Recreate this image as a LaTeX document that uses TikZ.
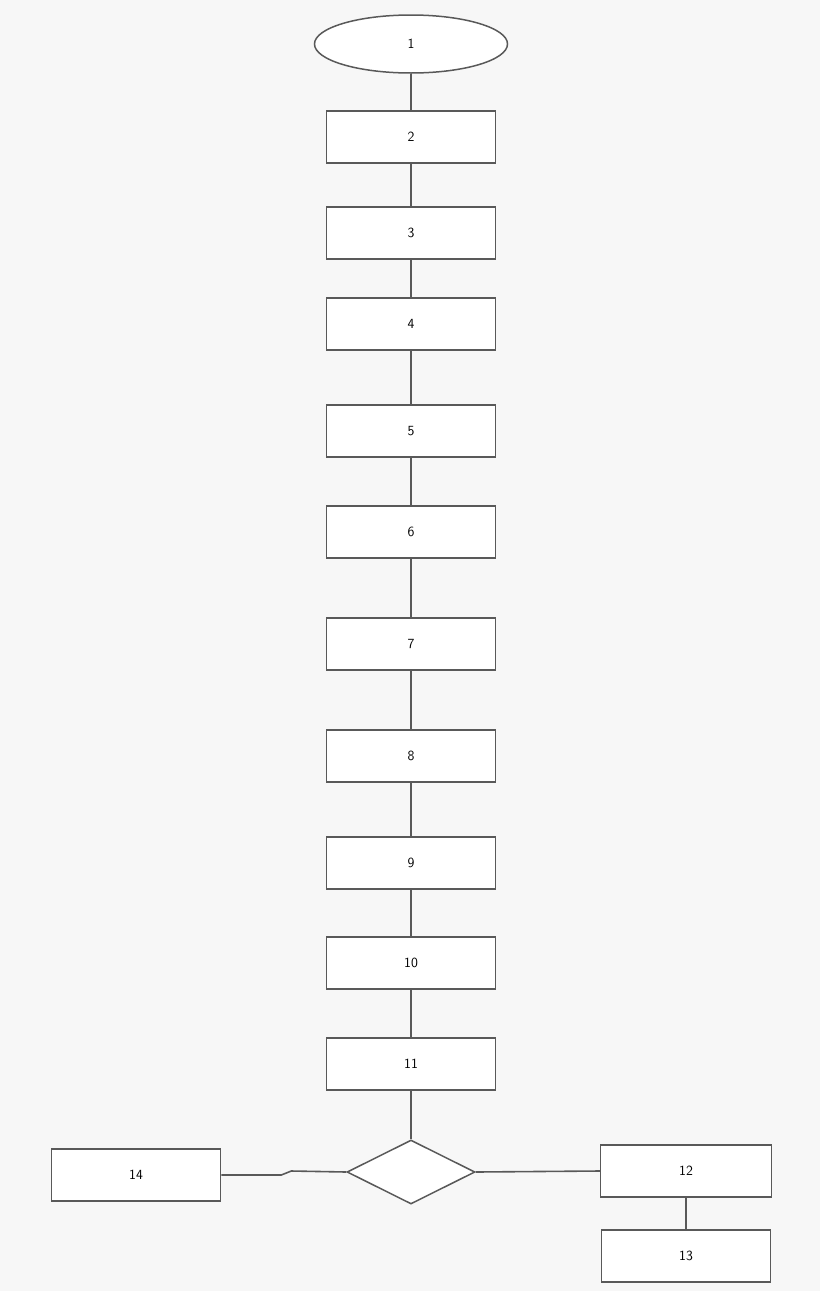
\documentclass[tikz,border=0pt]{standalone}
\usepackage{tikz}
\usetikzlibrary{shapes.geometric, positioning}

\begin{document}
\begin{tikzpicture}[x=1pt, y=-1pt, every node/.style={draw=black!65, line width=1.5pt, fill=white, font=\fontsize{14}{16}\selectfont\sffamily}, box/.style={rectangle, minimum width=169pt, minimum height=52pt}, link/.style={draw=black!65, line width=1.6pt}]
\fill[white!97!black] (0,0) rectangle (820,1291);
\useasboundingbox (0,0) rectangle (820,1291);
\node[ellipse, minimum width=193pt, minimum height=58pt] (n1) at (411,44) {1};
\node[box] (n2) at (411,137) {2};
\node[box] (n3) at (411,233) {3};
\node[box] (n4) at (411,324) {4};
\node[box] (n5) at (411,431) {5};
\node[box] (n6) at (411,532) {6};
\node[box] (n7) at (411,644) {7};
\node[box] (n8) at (411,756) {8};
\node[box] (n9) at (411,863) {9};
\node[box] (n10) at (411,963) {10};
\node[box] (n11) at (411,1064) {11};
\node[diamond, minimum width=128pt, minimum height=64pt, inner sep=0pt] (d) at (411,1172) {};
\node[box] (n14) at (136,1175) {14};
\node[box, minimum width=171pt] (n12) at (686,1171) {12};
\node[box] (n13) at (686,1256) {13};
\foreach \a/\b in {n1/n2, n2/n3, n3/n4, n4/n5, n5/n6, n6/n7, n7/n8, n8/n9, n9/n10, n10/n11, n11/d, n12/n13}
  \draw[link] (\a) -- (\b);
\draw[link] (d.east) -- (n12.west);
\draw[link] (n14.east) -- ++(60,0) -- ++(10,-4) -- (d.west);
\end{tikzpicture}
\end{document}
